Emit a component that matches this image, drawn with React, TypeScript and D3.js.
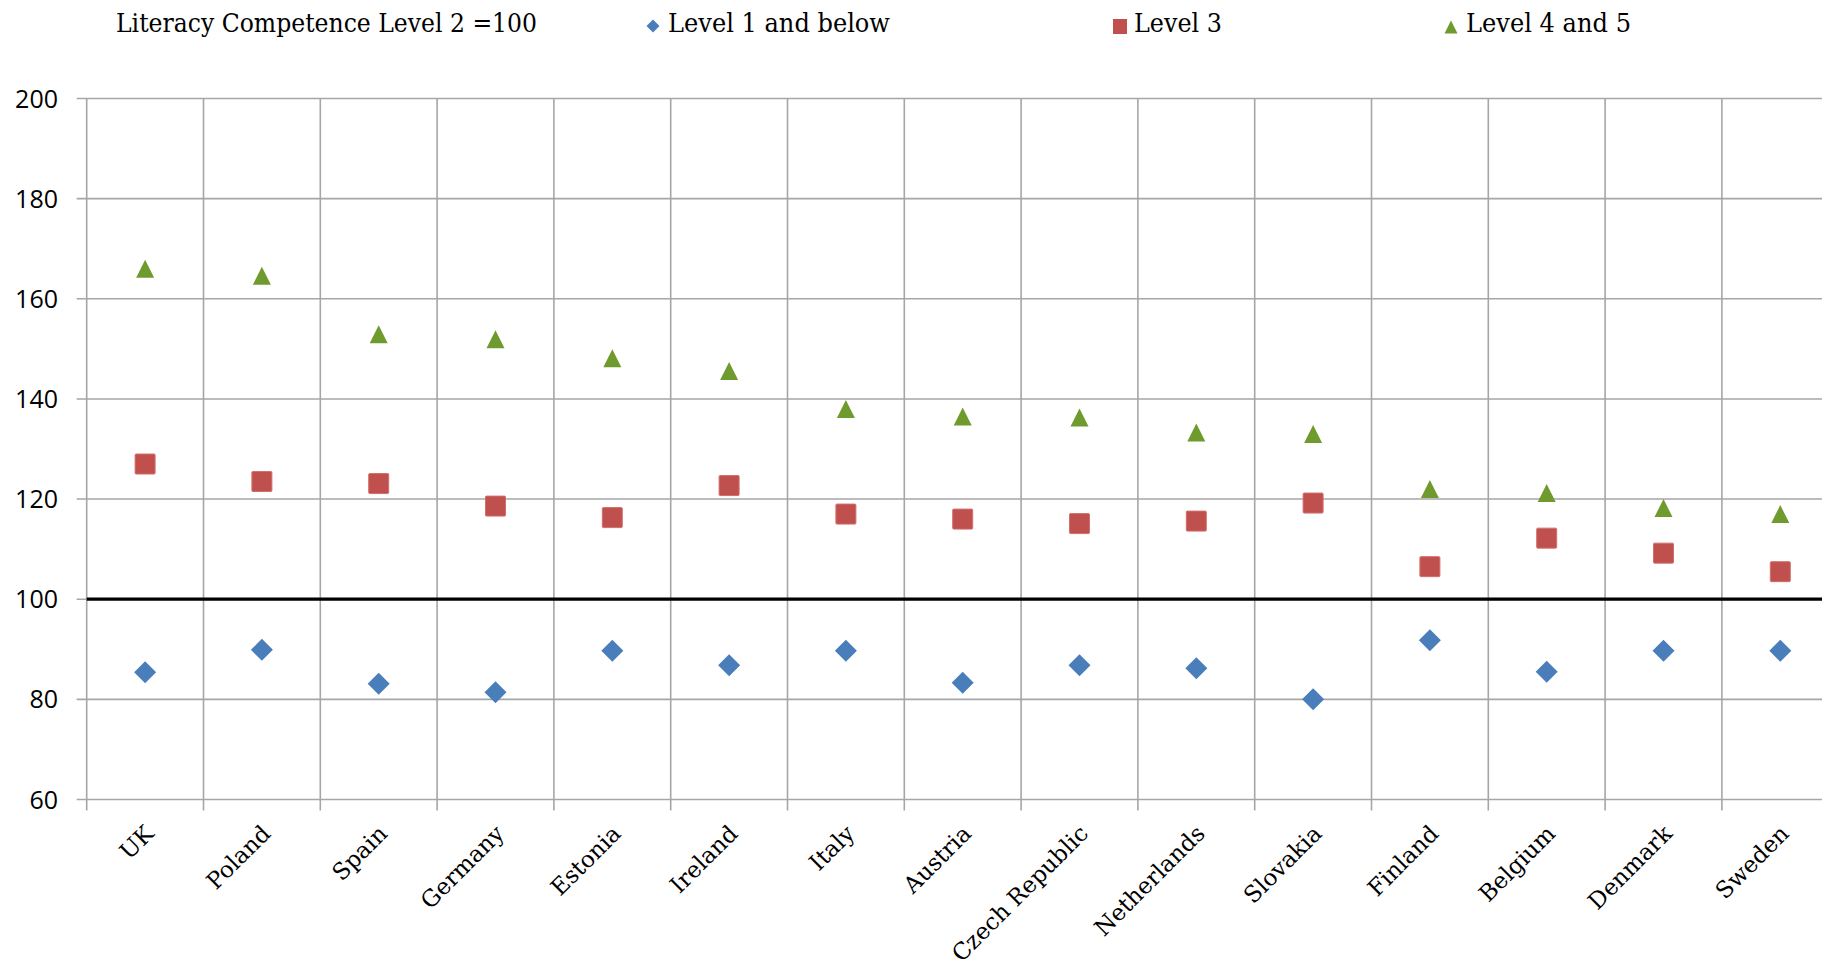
import React from "react";
import * as d3 from "d3";

const categories = ["UK", "Poland", "Spain", "Germany", "Estonia", "Ireland", "Italy", "Austria", "Czech Republic", "Netherlands", "Slovakia", "Finland", "Belgium", "Denmark", "Sweden"];
const level1 = [85.4, 89.9, 83.1, 81.4, 89.7, 86.8, 89.7, 83.3, 86.8, 86.2, 80.0, 91.8, 85.5, 89.7, 89.7];
const level3 = [127.0, 123.5, 123.1, 118.6, 116.3, 122.7, 117.0, 116.0, 115.1, 115.6, 119.2, 106.5, 112.2, 109.2, 105.5];
const level45 = [166.0, 164.6, 152.9, 151.9, 148.1, 145.6, 138.0, 136.5, 136.3, 133.3, 133.0, 122.0, 121.2, 118.2, 117.0];
const yTicks = [60, 80, 100, 120, 140, 160, 180, 200];
const legendTitle = "Literacy Competence Level 2 =100";
const seriesNames = ["Level 1 and below", "Level 3", "Level 4 and 5"];

const W = 1822;
const H = 971;
const BLUE = "#4A7EBB";
const RED = "#C0504D";
const GREEN = "#6F9A2E";
const GRID = "#A6A6A6";

const diamondPath = (r: number) => `M0,${-r}L${r},0L0,${r}L${-r},0Z`;
const triPath = (s: number) => `M0,${-s / 2}L${s / 2},${s / 2}L${-s / 2},${s / 2}Z`;

export default function App() {
  const left = 86.7;
  const step = 116.8;
  const x = d3.scaleBand<string>().domain(categories).range([left, left + step * categories.length]).padding(0);
  const y = d3.scaleLinear().domain([60, 200]).range([799.5, 98.5]);
  const right = left + step * categories.length;
  const cx = (c: string) => (x(c) as number) + x.bandwidth() / 2;

  return (
    <div style={{ position: "absolute", left: 0, top: 0 }}>
      <svg width={W} height={H} style={{ display: "block", background: "#fff" }}>
        {yTicks.map((t) => (
          <line key={"h" + t} x1={left - 10} x2={right} y1={y(t)} y2={y(t)} stroke={GRID} strokeWidth={1.6} />
        ))}
        {d3.range(categories.length + 1).map((i) => (
          <line key={"v" + i} x1={left + i * step} x2={left + i * step} y1={y(200)} y2={y(60) + 11} stroke={GRID} strokeWidth={1.6} />
        ))}
        <line x1={left} x2={right} y1={y(100)} y2={y(100)} stroke="#000" strokeWidth={3.2} />
        {yTicks.map((t) => (
          <text key={"yl" + t} x={58} y={y(t)} dy="0.36em" textAnchor="end" fontFamily="Open Sans" fontSize={25} fill="#000">
            {t}
          </text>
        ))}
        {categories.map((c) => (
          <text key={"xl" + c} transform={`translate(${cx(c) + 10},${835}) rotate(-45)`} textAnchor="end" fontFamily="DejaVu Serif" fontSize={23} fill="#000">
            {c}
          </text>
        ))}
        {categories.map((c, i) => (
          <g key={"m" + c}>
            <path d={diamondPath(11)} transform={`translate(${cx(c)},${y(level1[i])})`} fill={BLUE} />
            <rect x={cx(c) - 10} y={y(level3[i]) - 10} width={20} height={20} fill={RED} stroke="#D0706D" strokeWidth={1} rx={1} />
            <path d={triPath(18)} transform={`translate(${cx(c)},${y(level45[i])})`} fill={GREEN} />
          </g>
        ))}
        <text x={116} y={32} fontFamily="DejaVu Serif" fontSize={26} textLength={421} lengthAdjust="spacingAndGlyphs" fill="#000">
          {legendTitle}
        </text>
        <path d={diamondPath(6.5)} transform="translate(653,26)" fill={BLUE} />
        <text x={668} y={32} fontFamily="DejaVu Serif" fontSize={26} textLength={222} lengthAdjust="spacingAndGlyphs" fill="#000">
          {seriesNames[0]}
        </text>
        <rect x={1113} y={19} width={14} height={15} fill={RED} />
        <text x={1134} y={32} fontFamily="DejaVu Serif" fontSize={26} textLength={88} lengthAdjust="spacingAndGlyphs" fill="#000">
          {seriesNames[1]}
        </text>
        <path d={triPath(13)} transform="translate(1451,27)" fill={GREEN} />
        <text x={1466} y={32} fontFamily="DejaVu Serif" fontSize={26} textLength={165} lengthAdjust="spacingAndGlyphs" fill="#000">
          {seriesNames[2]}
        </text>
      </svg>
    </div>
  );
}
